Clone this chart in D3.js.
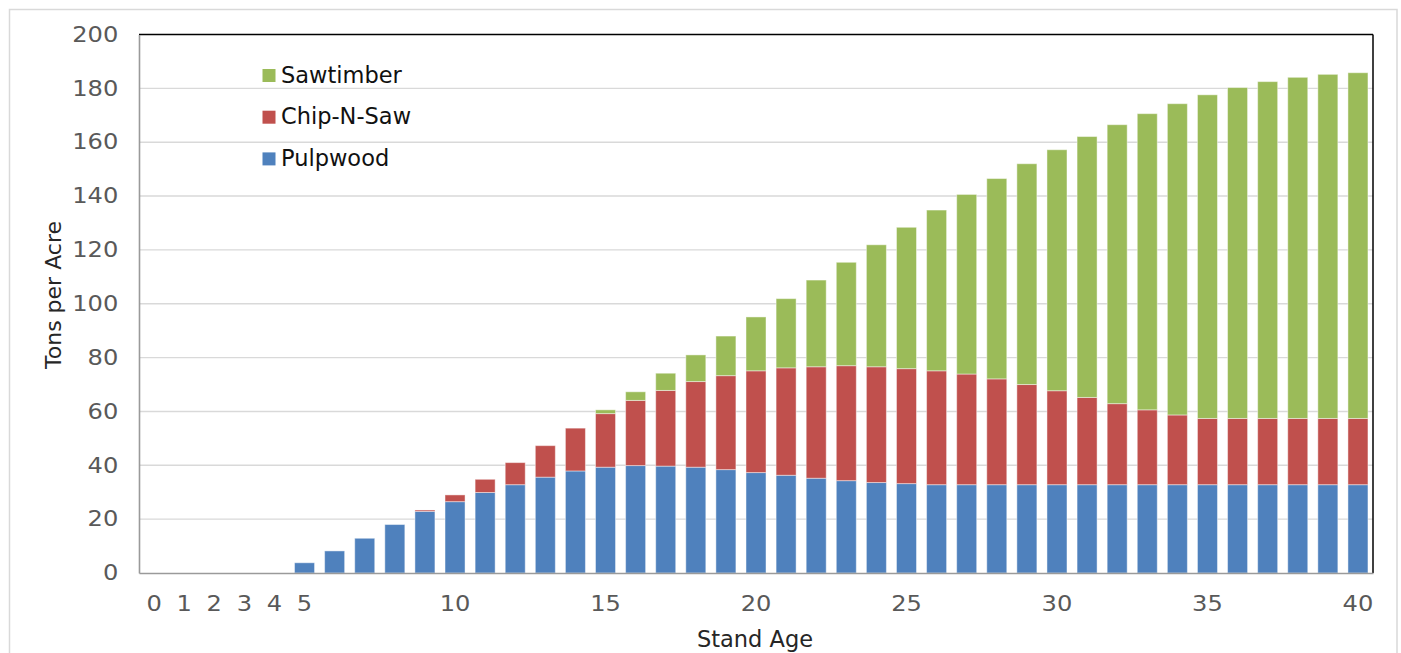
<!DOCTYPE html>
<html>
<head>
<meta charset="utf-8">
<script src="https://cdn.jsdelivr.net/npm/d3@7"></script>
<style>
  html, body { margin: 0; padding: 0; background: #fff; }
  svg { display: block; font-family: "DejaVu Sans", Verdana, sans-serif; }
</style>
</head>
<body>
<svg id="chart" width="1401" height="653"></svg>
<script>
// ---- data ----
const ages = [0,1,2,3,4,5,6,7,8,9,10,11,12,13,14,15,16,17,18,19,20,21,22,23,24,25,26,27,28,29,30,31,32,33,34,35,36,37,38,39,40];
const pulpwood = [0,0,0,0,0,3.8,8.2,12.9,18.0,22.9,26.5,29.9,32.8,35.6,37.9,39.3,39.9,39.7,39.3,38.4,37.3,36.3,35.2,34.3,33.6,33.2,32.8,32.8,32.8,32.8,32.8,32.8,32.8,32.8,32.8,32.8,32.8,32.8,32.8,32.8,32.8];
const chipNSaw = [0,0,0,0,0,0,0,0,0,0.5,2.5,4.9,8.2,11.7,15.9,19.9,24.2,28.1,31.8,34.9,37.8,39.9,41.4,42.7,43.0,42.7,42.3,41.1,39.3,37.2,34.9,32.4,30.1,27.8,25.9,24.6,24.6,24.6,24.6,24.6,24.6];
const sawtimber = [0,0,0,0,0,0,0,0,0,0,0,0,0,0,0,1.4,3.2,6.4,9.9,14.7,20.0,25.7,32.2,38.4,45.3,52.5,59.7,66.7,74.4,82.0,89.5,96.9,103.6,110.0,115.6,120.2,122.9,125.1,126.7,127.8,128.4];
const seriesNames = ["Pulpwood", "Chip-N-Saw", "Sawtimber"];
const seriesColors = ["#4F81BD", "#C0504D", "#9BBB59"];
const xTickLabels = [0,1,2,3,4,5,10,15,20,25,30,35,40];
const yTickValues = [0,20,40,60,80,100,120,140,160,180,200];
const xTitle = "Stand Age";
const yTitle = "Tons per Acre";

// ---- build table ----
const rows = ages.map((a, i) => ({ age: a, "Pulpwood": pulpwood[i], "Chip-N-Saw": chipNSaw[i], "Sawtimber": sawtimber[i] }));
const stacked = d3.stack().keys(seriesNames)(rows);

const svg = d3.select("#chart");
const L = 139, R = 1373, T = 34.5, B = 573;

// outer border
svg.append("rect").attr("x", 9.5).attr("y", 9.5).attr("width", 1387.5).attr("height", 660)
  .attr("fill", "#fff").attr("stroke", "#d9d9d9").attr("stroke-width", 1.5);

const x = d3.scaleBand().domain(ages).range([L, R]).paddingInner(0.335).paddingOuter(0.1675);
const y = d3.scaleLinear().domain([0, 200]).range([B, T]);

// gridlines
svg.append("g").selectAll("line").data(yTickValues.filter(v => v > 0 && v < 200)).join("line")
  .attr("x1", L).attr("x2", R).attr("y1", d => y(d)).attr("y2", d => y(d))
  .attr("stroke", "#d9d9d9").attr("stroke-width", 1.4);

// bars
svg.append("g").selectAll("g").data(stacked).join("g")
  .attr("fill", (d, i) => seriesColors[i])
  .selectAll("rect").data(d => d.filter(p => p[1] - p[0] > 0)).join("rect")
  .attr("x", d => x(d.data.age))
  .attr("width", x.bandwidth())
  .attr("y", d => y(d[1]))
  .attr("height", d => y(d[0]) - y(d[1]))
  .attr("stroke", "rgba(255,255,255,0.45)").attr("stroke-width", 1);

// plot border: top & right black
svg.append("line").attr("x1", L).attr("x2", R).attr("y1", T).attr("y2", T).attr("stroke", "#000").attr("stroke-width", 1.5);
svg.append("line").attr("x1", R).attr("x2", R).attr("y1", T).attr("y2", B).attr("stroke", "#000").attr("stroke-width", 1.5);

// axes
const yAxis = svg.append("g").attr("transform", `translate(${L},0)`)
  .call(d3.axisLeft(y).tickValues(yTickValues).tickSize(0).tickPadding(18));
yAxis.select(".domain").attr("stroke", "#9a9a9a").attr("stroke-width", 1.6);
yAxis.selectAll("text").attr("font-size", 21).attr("fill", "#595959")
  .attr("font-family", "DejaVu Sans").attr("transform", "scale(1.15,1)");

const xAxis = svg.append("g").attr("transform", `translate(0,${B})`)
  .call(d3.axisBottom(x).tickValues(xTickLabels).tickSize(0).tickPadding(23));
xAxis.select(".domain").attr("stroke", "#9a9a9a").attr("stroke-width", 1.6);
xAxis.selectAll(".tick").each(function() {
  d3.select(this).select("text").attr("font-size", 21).attr("fill", "#595959")
    .attr("font-family", "DejaVu Sans").attr("transform", "scale(1.15,1)");
});

// axis titles
svg.append("text").attr("x", 755).attr("y", 646.5).attr("text-anchor", "middle")
  .attr("font-size", 22.5).attr("fill", "#262626").text(xTitle);
svg.append("text").attr("transform", "translate(61,295) rotate(-90)").attr("text-anchor", "middle")
  .attr("font-size", 22).attr("fill", "#262626").text(yTitle);

// legend
const legendOrder = [2, 1, 0];
const lg = svg.append("g");
legendOrder.forEach((si, k) => {
  const yy = 69 + k * 41.7;
  lg.append("rect").attr("x", 262.5).attr("y", yy).attr("width", 13).attr("height", 13).attr("fill", seriesColors[si]);
  lg.append("text").attr("x", 281).attr("y", yy + 13.5).attr("font-size", 22.5).attr("fill", "#111").text(seriesNames[si]);
});
</script>
</body>
</html>
